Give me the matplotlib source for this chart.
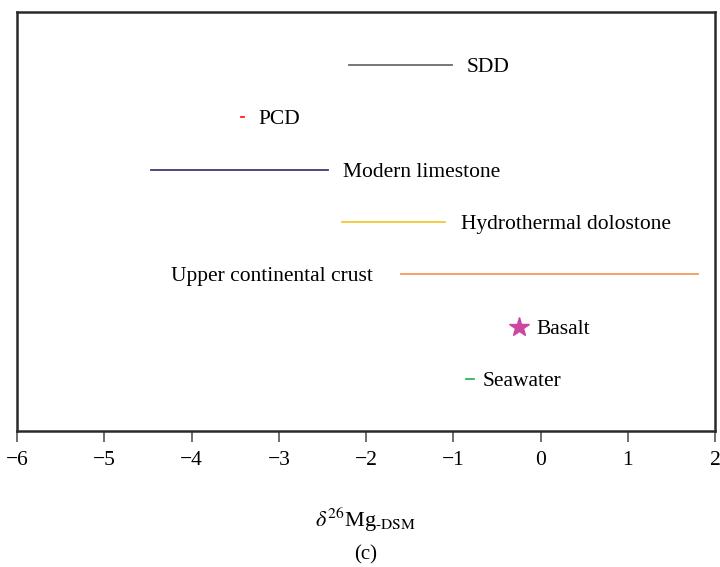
import matplotlib.pyplot as plt

plt.rcParams['font.family'] = ['Liberation Serif', 'DejaVu Serif']
plt.rcParams['mathtext.fontset'] = 'stix'

# delta26Mg ranges for each reservoir (low, high)
names = ['SDD', 'PCD', 'Modern limestone', 'Hydrothermal dolostone',
         'Upper continental crust', 'Basalt', 'Seawater']
lows = [-2.20, -3.44, -4.47, -2.28, -1.60, -0.25, -0.86]
highs = [-1.01, -3.40, -2.44, -1.09, 1.80, -0.25, -0.76]
rows = [7, 6, 5, 4, 3, 2, 1]
colors = ['#6b6b6b', '#ff2020', '#3c3878', '#f5c830', '#f59a5a', '#cc48a0', '#2ab860']
# gap between the end of the range and its label
gaps = [0.16, 0.16, 0.18, 0.18, 0.32, 0.2, 0.1]

fig = plt.figure(figsize=(7.2, 5.67), dpi=100)
ax = fig.add_axes([0.024, 0.239, 0.969, 0.739])

fs = 15.5
for name, lo, hi, y, c, g in zip(names, lows, highs, rows, colors, gaps):
    if lo == hi:
        ax.plot(lo, y, marker='*', color=c, markersize=15, linestyle='none')
    else:
        ax.plot([lo, hi], [y, y], color=c, linewidth=1.3)
    if name == 'Upper continental crust':
        ax.text(lo - g, y, name, va='center_baseline', ha='right', fontsize=fs)
    else:
        ax.text(hi + g, y, name, va='center_baseline', ha='left', fontsize=fs)

ax.set_xlim(-6, 2)
ax.set_ylim(0, 8)
ax.set_yticks([])
ax.set_xticks(range(-6, 3))
ax.set_xticklabels(['\u22126', '\u22125', '\u22124', '\u22123', '\u22122', '\u22121', '0', '1', '2'])
ax.tick_params(axis='x', direction='out', length=8, width=1.2, color='#555555',
               labelsize=fs, pad=6)
for s in ax.spines.values():
    s.set_linewidth(1.8)
    s.set_color('#2a2a2a')

fig.text(0.5075, 0.083, r'$\delta^{26}$Mg$_{\text{-DSM}}$', ha='center',
         va='center', fontsize=16)
fig.text(0.5075, 0.022, '(c)', ha='center', va='center', fontsize=15)

fig.savefig('out.png', dpi=100)
